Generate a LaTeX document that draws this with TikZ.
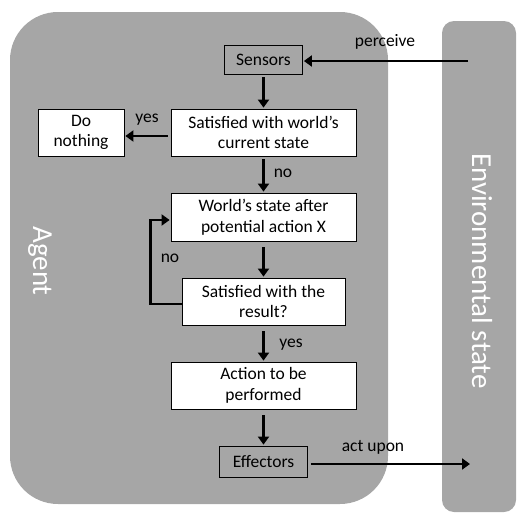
\documentclass[tikz,border=0pt]{standalone}
\usepackage{fontspec}
\setmainfont{Carlito}
\definecolor{PanelGray}{HTML}{A6A6A6}
\usetikzlibrary{arrows.meta}
\tikzset{
    stepbox/.style={draw=black, line width=0.8pt, fill=white, align=center,
        inner sep=2pt, font=\fontsize{17.5}{20.5}\selectfont},
    organbox/.style={stepbox, fill=PanelGray},
    flow/.style={line width=2.6pt, -{Triangle[length=8pt, width=11pt]}, shorten >=1pt},
    flowlabel/.style={font=\fontsize{17.5}{20.5}\selectfont},
    paneltext/.style={rotate=-90, text=white, font=\fontsize{29}{34}\selectfont}
}
\begin{document}
\begin{tikzpicture}[x=1pt, y=-1pt]

\useasboundingbox (0,0) rectangle (517,514);

% Fondos del agente y del entorno.
\fill[PanelGray, rounded corners=48pt] (10,12) rectangle (388,504);
\fill[PanelGray, rounded corners=12pt] (442,21) rectangle (516,512);
\node[paneltext] (agentname) at (40,261) {Agent};
\node[paneltext] (envname) at (482,271) {Environmental state};

% Pasos del agente.
\node[organbox, minimum width=78pt, minimum height=29pt] (sensors) at (263.5,59.5) {Sensors};
\node[stepbox, minimum width=185pt, minimum height=47pt] (satisfied) at (263.5,132.5)
    {Satisfied with world's\\current state};
\node[stepbox, minimum width=86pt, minimum height=47pt] (nothing) at (81,132.5) {Do\\nothing};
\node[stepbox, minimum width=185pt, minimum height=48pt] (worldstate) at (263.5,217)
    {World's state after\\potential action X};
\node[stepbox, minimum width=163pt, minimum height=47pt] (result) at (263.5,301.5)
    {Satisfied with the\\result?};
\node[stepbox, minimum width=185pt, minimum height=47pt] (action) at (263.5,385.5)
    {Action to be\\performed};
\node[organbox, minimum width=88pt, minimum height=31pt] (effectors) at (263.5,461.5) {Effectors};

% Extremos libres de las flechas hacia y desde el entorno.
\coordinate (envin) at (471,61);
\coordinate (envout) at (471,464);

% Flechas.
\draw[flow, shorten <=3pt] (envin) -- (envin -| sensors.east);
\draw[flow, shorten <=3pt] (sensors) -- (satisfied);
\draw[flow, shorten <=3pt] ([yshift=-3.5pt]satisfied.west) -- ([yshift=-3.5pt]nothing.east);
\draw[flow, shorten <=3pt] (satisfied) -- (worldstate);
\draw[flow, shorten <=6pt] (worldstate) -- (result);
\draw[flow] ([yshift=-2.5pt]result.west) -- ++(-31,0) |- ([yshift=-3pt]worldstate.west);
\draw[flow, shorten <=6pt] (result) -- (action);
\draw[flow, shorten <=6pt] (action) -- (effectors);
\draw[flow, shorten <=3pt] ([yshift=-2.5pt]effectors.east) -- (envout);

% Etiquetas de las flechas.
\node[flowlabel] (perceivelabel) at (385,42) {perceive};
\node[flowlabel] (yeslabel) at (147,120) {yes};
\node[flowlabel] (nolabel) at (283,173) {no};
\node[flowlabel] (looplabel) at (170,258) {no};
\node[flowlabel] (donelabel) at (291,345) {yes};
\node[flowlabel] (actlabel) at (373,447) {act upon};

\end{tikzpicture}
\end{document}
